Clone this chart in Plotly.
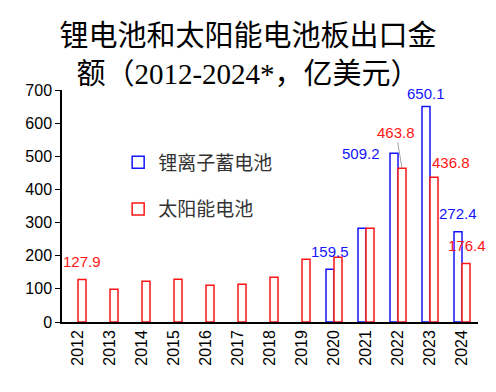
import plotly.graph_objects as go

years = ["2012", "2013", "2014", "2015", "2016", "2017", "2018",
         "2019", "2020", "2021", "2022", "2023", "2024"]
lithium = [None, None, None, None, None, None, None,
           None, 159.5, 283.0, 509.2, 650.1, 272.4]
solar = [127.9, 99.0, 123.0, 129.0, 111.0, 114.0, 135.0,
         189.0, 195.0, 283.0, 463.8, 436.8, 176.4]
y_ticks = [0, 100, 200, 300, 400, 500, 600, 700]

BLUE = "#1414FF"
RED = "#FF1414"
LABEL_FONT = "Liberation Sans, Arial, sans-serif"
TITLE_FONT = "Liberation Serif, Noto Sans CJK SC, serif"
CJK_FONT = "Noto Sans CJK SC, sans-serif"

fig = go.Figure()
fig.add_trace(go.Bar(
    x=years, y=lithium, name="锂离子蓄电池",
    marker=dict(color="white", line=dict(color=BLUE, width=1.5)),
    legendgroup="a",
))
fig.add_trace(go.Bar(
    x=years, y=solar, name="太阳能电池",
    marker=dict(color="white", line=dict(color=RED, width=1.5)),
    legendgroup="b",
))

# data labels: (year, value, series, xshift, yshift)
labels = [
    ("2012", solar[0], "solar", 0, 18),
    ("2020", lithium[8], "lithium", 0, 18),
    ("2022", lithium[10], "lithium", -33, 0),
    ("2023", lithium[11], "lithium", 0, 13),
    ("2023", solar[11], "solar", 17, 15),
    ("2024", lithium[12], "lithium", 0, 18),
    ("2024", solar[12], "solar", 1, 18),
]
offsets = {"lithium": -4, "solar": 4}
colors = {"lithium": BLUE, "solar": RED}
for yr, val, ser, xs, ys in labels:
    fig.add_annotation(
        x=years.index(yr), y=val, xref="x", yref="y", text=f"{val:.1f}",
        showarrow=False, xshift=offsets[ser] + xs, yshift=ys,
        font=dict(family=LABEL_FONT, size=15, color=colors[ser]),
    )
# label with leader line
fig.add_annotation(
    x=years.index("2022"), y=solar[10], xref="x", yref="y",
    text=f"{solar[10]:.1f}",
    showarrow=True, arrowhead=0, arrowwidth=1, arrowcolor="#A0A0A0",
    ax=-6, ay=-36, xshift=4, standoff=0,
    font=dict(family=LABEL_FONT, size=15, color=RED),
)

fig.update_layout(
    width=496, height=392,
    margin=dict(l=62, r=18, t=90, b=70),
    paper_bgcolor="white", plot_bgcolor="white",
    barmode="group", bargap=0.5, bargroupgap=0,
    title=dict(
        text="锂电池和太阳能电池板出口金<br>额（2012-2024*，亿美元）",
        x=0.5, xref="container", xanchor="center",
        y=1 - 46 / 392, yref="container", yanchor="middle",
        font=dict(family=TITLE_FONT, size=29, color="black"),
    ),
    showlegend=True,
    legend=dict(
        x=0.135, y=0.77, xanchor="left", yanchor="top",
        bgcolor="rgba(0,0,0,0)", tracegroupgap=19,
        font=dict(family=CJK_FONT, size=19, color="#333333"),
    ),
    xaxis=dict(
        type="category", range=[-0.5, 12.5],
        showline=True, linecolor="black", linewidth=1.5,
        ticks="", tickangle=-90, showgrid=False,
        tickfont=dict(family=LABEL_FONT, size=16, color="black"),
    ),
    yaxis=dict(
        range=[0, 700], tickvals=y_ticks,
        showline=True, linecolor="black", linewidth=1.5,
        ticks="outside", ticklen=5, tickcolor="black", showgrid=False,
        zeroline=False,
        tickfont=dict(family=LABEL_FONT, size=16, color="black"),
    ),
)

fig.write_html("out.html", config={"displayModeBar": False},
               post_script="document.body.style.margin='0';")
